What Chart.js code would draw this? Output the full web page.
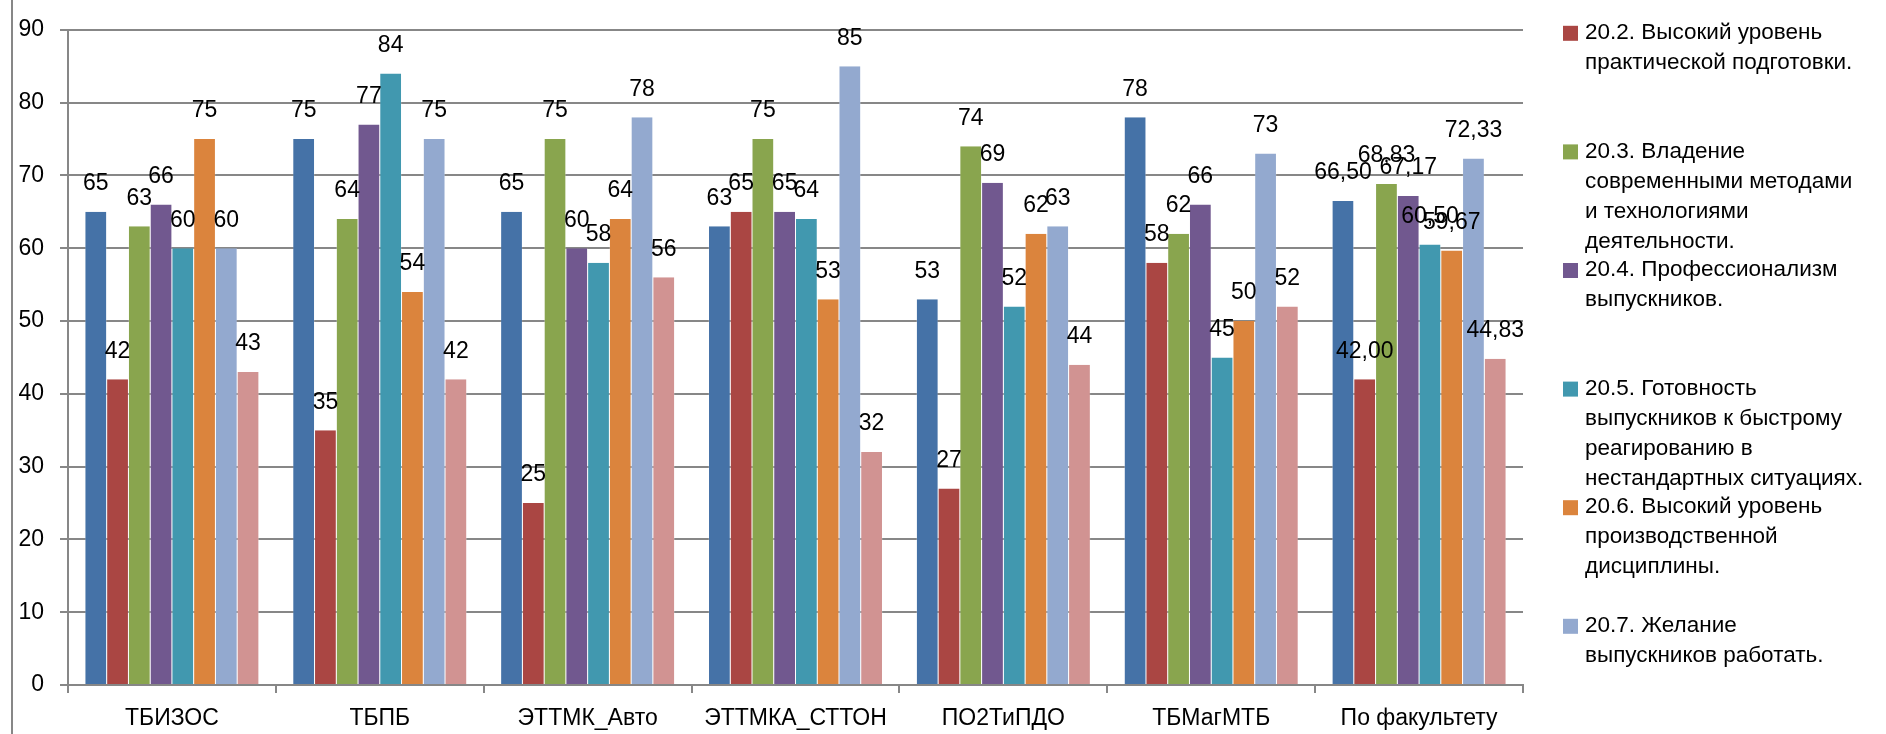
<!DOCTYPE html>
<html><head><meta charset="utf-8">
<script src="https://cdn.jsdelivr.net/npm/chart.js@4/dist/chart.umd.min.js"></script>
<style>html,body{margin:0;padding:0;background:#fff}canvas{display:block}</style>
</head><body>
<canvas id="c" width="1886" height="734"></canvas>
<script>
const categories = ['ТБИЗОС', 'ТБПБ', 'ЭТТМК_Авто', 'ЭТТМКА_СТТОН', 'ПО2ТиПДО', 'ТБМагМТБ', 'По факультету'];
const yTicks = [0, 10, 20, 30, 40, 50, 60, 70, 80, 90];

const q201 = [65, 75, 65, 63, 53, 78, 66.50];
const q202 = [42, 35, 25, 65, 27, 58, 42.00];
const q203 = [63, 64, 75, 75, 74, 62, 68.83];
const q204 = [66, 77, 60, 65, 69, 66, 67.17];
const q205 = [60, 84, 58, 64, 52, 45, 60.50];
const q206 = [75, 54, 64, 53, 62, 50, 59.67];
const q207 = [60, 75, 78, 85, 63, 73, 72.33];
const q208 = [43, 42, 56, 32, 44, 52, 44.83];

const name201 = ['20.1. Высокий уровень', 'теоретической подготовки.'];
const name202 = ['20.2. Высокий уровень', 'практической подготовки.'];
const name203 = ['20.3. Владение', 'современными методами', 'и технологиями', 'деятельности.'];
const name204 = ['20.4. Профессионализм', 'выпускников.'];
const name205 = ['20.5. Готовность', 'выпускников к быстрому', 'реагированию в', 'нестандартных ситуациях.'];
const name206 = ['20.6. Высокий уровень', 'производственной', 'дисциплины.'];
const name207 = ['20.7. Желание', 'выпускников работать.'];
const name208 = ['20.8. Общая оценка', 'выпускников.'];

const colors = ['#4572A7', '#AA4643', '#89A54E', '#71588F', '#4198AF', '#DB843D', '#93A9CF', '#D19392'];
const FONT = "'Liberation Sans', Arial, sans-serif";
const GRID = '#878787';

const series = [q201, q202, q203, q204, q205, q206, q207, q208];
const names = [name201, name202, name203, name204, name205, name206, name207, name208];

const datasets = series.map((d, i) => ({
  label: names[i].join(' '),
  lines: names[i],
  data: d,
  backgroundColor: colors[i],
  borderColor: 'rgba(255,255,255,0.6)',
  borderWidth: { left: 0.5, right: 0.5, top: 0, bottom: 0 },
  barPercentage: 1.0,
  categoryPercentage: 0.837
}));

const fmt = (v, idx) => idx === categories.length - 1 ? v.toFixed(2).replace('.', ',') : String(Math.round(v));

const labelPlugin = {
  id: 'vals',
  afterDatasetsDraw(chart) {
    const ctx = chart.ctx;
    ctx.save();
    ctx.font = '23px ' + FONT;
    ctx.fillStyle = '#000';
    ctx.textAlign = 'center';
    ctx.textBaseline = 'middle';
    chart.data.datasets.forEach((ds, di) => {
      const meta = chart.getDatasetMeta(di);
      meta.data.forEach((el, i) => {
        ctx.fillText(fmt(ds.data[i], i), el.x, el.y - 28);
      });
    });
    ctx.restore();
  }
};

const legendPlugin = {
  id: 'sideLegend',
  afterDraw(chart) {
    const ctx = chart.ctx;
    ctx.save();
    ctx.strokeStyle = GRID;
    ctx.lineWidth = 2;
    ctx.beginPath();
    ctx.moveTo(12, 0); ctx.lineTo(12, chart.height);
    ctx.stroke();
    ctx.font = '22.5px ' + FONT;
    ctx.textBaseline = 'middle';
    ctx.textAlign = 'left';
    const pitch = 118.6, first = 32.8 - pitch, lh = 30;
    chart.data.datasets.forEach((ds, i) => {
      const y0 = first + i * pitch;
      ctx.fillStyle = ds.backgroundColor;
      ctx.fillRect(1563, y0 - 7, 15, 15);
      ctx.fillStyle = '#000';
      ds.lines.forEach((t, k) => ctx.fillText(t, 1585, y0 + k * lh));
    });
    ctx.restore();
  }
};

new Chart(document.getElementById('c'), {
  type: 'bar',
  data: { labels: categories, datasets },
  options: {
    responsive: false,
    animation: false,
    devicePixelRatio: 1,
    layout: { padding: { left: 0, right: 363, top: 23, bottom: 0 } },
    plugins: { legend: { display: false }, tooltip: { enabled: false } },
    scales: {
      x: {
        grid: { drawOnChartArea: false, drawTicks: true, tickLength: 8, color: GRID, lineWidth: 2, offset: true },
        border: { color: GRID, width: 2 },
        ticks: { font: { family: FONT, size: 23 }, color: '#000', padding: 12, maxRotation: 0 },
        afterFit(s) { s.height = 49; }
      },
      y: {
        min: 0, max: 90,
        afterBuildTicks(s) { s.ticks = yTicks.map(v => ({ value: v })); },
        grid: { color: GRID, lineWidth: 2, tickLength: 8 },
        border: { color: GRID, width: 2 },
        ticks: { font: { family: FONT, size: 23 }, color: '#000', padding: 16 },
        afterFit(s) { s.width = 68; }
      }
    }
  },
  plugins: [labelPlugin, legendPlugin]
});
</script>
</body></html>
